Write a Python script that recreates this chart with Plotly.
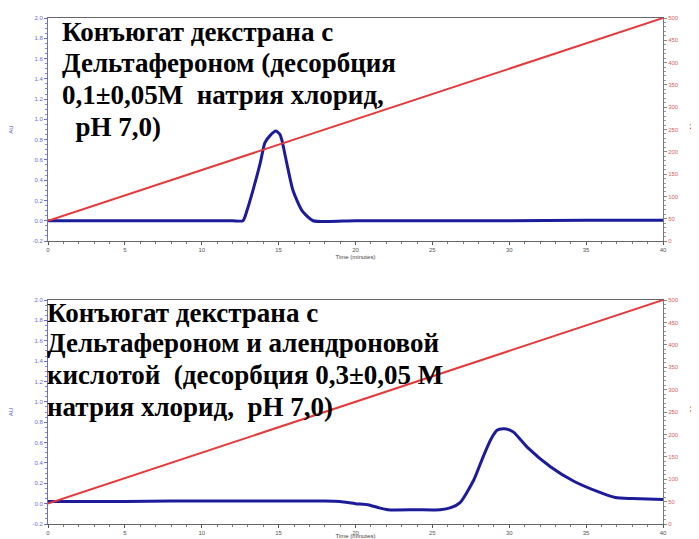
import plotly.graph_objects as go

# ---- data ----
# Top chromatogram (conjugate, 0.1 M desorption)
t_top = [0, 5, 10, 12.0, 12.68, 12.94, 13.33, 13.79, 14.11, 14.44, 14.83, 15.09, 15.22,
         15.54, 15.93, 16.52, 17.24, 20, 25, 30, 35, 40]
au_top = [0.0, 0.0, 0.0, 0.0, 0.0, 0.10, 0.30, 0.56, 0.77, 0.84, 0.885, 0.85, 0.79,
          0.56, 0.30, 0.10, 0.0, 0.0, 0.0, 0.0, 0.005, 0.005]

# Bottom chromatogram (conjugate with alendronic acid, 0.3 M desorption)
t_bot = [0, 5, 8, 12, 15, 18, 19.0, 20.0, 20.8, 21.5, 22.1, 24, 25.5, 26.2, 26.8, 27.7,
         28.3, 28.8, 29.2, 29.6, 30.0, 30.3, 31.2, 32.7, 34.2, 35.9, 36.9, 38, 40]
au_bot = [0.02, 0.02, 0.025, 0.025, 0.025, 0.025, 0.02, 0.0, -0.01, -0.04, -0.06, -0.06, -0.06,
          -0.04, 0.01, 0.235, 0.46, 0.63, 0.72, 0.735, 0.725, 0.70, 0.55, 0.36, 0.22, 0.11,
          0.06, 0.05, 0.04]

# Salt gradient (right axis)
t_grad = [0, 40]
grad = [45.5, 500]

x_ticks = [0, 5, 10, 15, 20, 25, 30, 35, 40]
left_ticks = [-0.2, 0.0, 0.2, 0.4, 0.6, 0.8, 1.0, 1.2, 1.4, 1.6, 1.8, 2.0]
left_labels = ["-0.2", "0.0", "0.2", "0.4", "0.6", "0.8", "1.0", "1.2", "1.4", "1.6", "1.8", "2.0"]
right_ticks = [0, 50, 100, 150, 200, 250, 300, 350, 400, 450, 500]

lines_top = ["Конъюгат декстрана с", "Дельтафероном (десорбция",
             "0,1±0,05M\u00a0 натрия хлорид,", "\u00a0\u00a0pH 7,0)"]
lines_bot = ["Конъюгат декстрана с", "Дельтафероном и алендроновой",
             "кислотой\u00a0 (десорбция 0,3±0,05 M", "натрия хлорид,\u00a0 pH 7,0)"]

# page body has an 8px margin; figure drawn inside it
OFF = 8
W, H = 699 - OFF, 539 - OFF
BLUE = "#1c1c9a"
RED = "#e8393a"


def px(x):
    return (x - OFF) / W


def py(y):
    return 1 - (y - OFF) / H


fig = go.Figure()

fig.add_trace(go.Scatter(x=t_grad, y=grad, mode="lines", line=dict(color=RED, width=2),
                         xaxis="x", yaxis="y2", showlegend=False))
fig.add_trace(go.Scatter(x=t_top, y=au_top, mode="lines", line=dict(color=BLUE, width=3, shape="spline", smoothing=0.6),
                         xaxis="x", yaxis="y", showlegend=False))
fig.add_trace(go.Scatter(x=t_grad, y=grad, mode="lines", line=dict(color=RED, width=2),
                         xaxis="x2", yaxis="y4", showlegend=False))
fig.add_trace(go.Scatter(x=t_bot, y=au_bot, mode="lines", line=dict(color=BLUE, width=3, shape="spline", smoothing=0.6),
                         xaxis="x2", yaxis="y3", showlegend=False))

xdom = [px(48), px(663)]
top_dom = [py(241), py(18)]
bot_dom = [py(524), py(300)]

tickfont_x = dict(family="Liberation Sans", size=6, color="#555")
tickfont_l = dict(family="Liberation Sans", size=6, color="#6b6bd0")
tickfont_r = dict(family="Liberation Sans", size=6, color="#e06060")


def xaxis(anchor):
    return dict(domain=xdom, anchor=anchor, range=[0, 40], tickvals=x_ticks,
                ticks="outside", ticklen=3, tickcolor="#555", tickfont=tickfont_x,
                minor=dict(dtick=1, ticks="outside", ticklen=2, tickcolor="#777"),
                showline=True, linecolor="#666", linewidth=1, mirror=True,
                showgrid=False, zeroline=False, automargin=False,
                title=dict(text="Time (minutes)", font=dict(family="Liberation Sans", size=6, color="#444"), standoff=2))


def yleft(dom, anchor):
    return dict(domain=dom, anchor=anchor, range=[-0.2, 2.0], tickvals=left_ticks, ticktext=left_labels,
                ticks="outside", ticklen=3, tickcolor="#6b6bd0", tickfont=tickfont_l,
                minor=dict(dtick=0.05, ticks="outside", ticklen=2, tickcolor="#8888d8"),
                showline=True, linecolor="#6b6bd0", linewidth=1,
                showgrid=False, zeroline=False, automargin=False,
                title=dict(text="AU", font=dict(family="Liberation Sans", size=6, color="#4a4ac8"), standoff=18))


def yright(dom, over, anchor):
    return dict(domain=dom, anchor=anchor, overlaying=over, side="right", range=[0, 500],
                tickvals=right_ticks, ticks="outside", ticklen=3, tickcolor="#888", tickfont=tickfont_r,
                minor=dict(dtick=10, ticks="outside", ticklen=2, tickcolor="#999"),
                showline=True, linecolor="#777", linewidth=1,
                showgrid=False, zeroline=False, automargin=False,
                title=dict(text="mM", font=dict(family="Liberation Sans", size=7, color="#d04040"), standoff=12))


annotations = []
for ln, yc in zip(lines_top, [32, 63, 95, 127]):
    annotations.append(dict(text="<b>" + ln + "</b>", xref="paper", yref="paper", x=px(60), y=py(yc),
                            xanchor="left", yanchor="middle", align="left", showarrow=False,
                            font=dict(family="Liberation Serif", size=27, color="black")))
for ln, yc in zip(lines_bot, [313, 343, 375, 407]):
    annotations.append(dict(text="<b>" + ln + "</b>", xref="paper", yref="paper", x=px(45), y=py(yc),
                            xanchor="left", yanchor="middle", align="left", showarrow=False,
                            font=dict(family="Liberation Serif", size=27, color="black")))

fig.update_layout(
    width=W, height=H,
    margin=dict(l=0, r=0, t=0, b=0),
    paper_bgcolor="white", plot_bgcolor="white",
    xaxis=xaxis("y"),
    yaxis=yleft(top_dom, "x"),
    yaxis2=yright(top_dom, "y", "x"),
    xaxis2=xaxis("y3"),
    yaxis3=yleft(bot_dom, "x2"),
    yaxis4=yright(bot_dom, "y3", "x2"),
    annotations=annotations,
)

fig.write_html("out.html")
